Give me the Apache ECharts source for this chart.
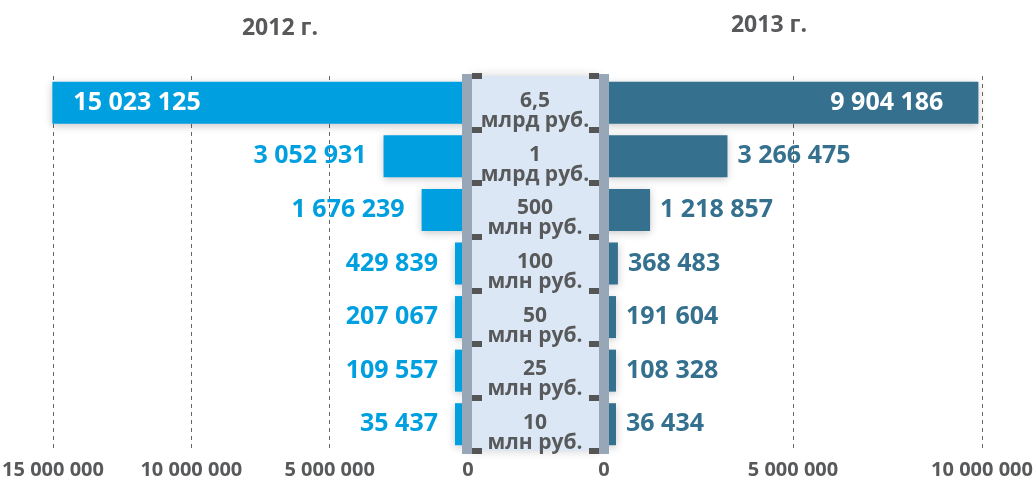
<!DOCTYPE html>
<html>
<head>
<meta charset="utf-8">
<script src="https://cdn.jsdelivr.net/npm/echarts@6/dist/echarts.min.js"></script>
<style>
  html, body { margin: 0; padding: 0; background: #fff; }
  #chart { width: 1035px; height: 481px; }
</style>
</head>
<body>
<div id="chart"></div>
<script>
// thresholds (top to bottom)
const bands = ["6,5", "1", "500", "100", "50", "25", "10"];
const bandUnits = ["млрд руб.", "млрд руб.", "млн руб.", "млн руб.", "млн руб.", "млн руб.", "млн руб."];
const values2012 = [15023125, 3052931, 1676239, 429839, 207067, 109557, 35437];
const values2013 = [9904186, 3266475, 1218857, 368483, 191604, 108328, 36434];
const yearTitles = ["2012 г.", "2013 г."];

const FONT = "'Open Sans', 'DejaVu Sans', sans-serif";
const GREY_TEXT = "#58595b";
const BLUE_2012 = "#009fdf";
const BLUE_2013 = "#35718f";
const PANEL_BAR = "#97a7b7";

const fmt = (v) => String(v).replace(/\B(?=(\d{3})+(?!\d))/g, " ");

const chart = echarts.init(document.getElementById("chart"));

// biggest bar gets its label inside (white), the rest outside
const toData = (vals, insidePos, dist) => vals.map((v, i) => i === 0
  ? { value: v, label: { position: insidePos, color: "#fff", distance: dist } }
  : v);

const valueAxisBase = {
  type: "value",
  min: 0,
  interval: 5000000,
  axisLine: { show: false },
  axisTick: { show: false },
  axisLabel: {
    formatter: fmt,
    color: GREY_TEXT,
    fontFamily: FONT,
    fontWeight: "bold",
    fontSize: 20,
    margin: 9,
  },
  splitLine: { lineStyle: { color: "#666", type: [4, 4], width: 1 } },
};

const hiddenCat = (grid) => ({ type: "category", gridIndex: grid, data: bands, show: false });
const hiddenVal = (grid) => ({ type: "value", gridIndex: grid, show: false });

const markAxis = (pos) => ({
  type: "category", gridIndex: 2, data: bands, inverse: true, position: pos, z: 6,
  axisLine: { show: true, lineStyle: { color: "rgba(0,0,0,0)", width: 1 } },
  axisTick: { show: true, inside: true, length: 10, lineStyle: { color: "#555", width: 6, cap: "butt" } },
  axisLabel: { show: false },
});

const barShadow = { shadowBlur: 8, shadowColor: "rgba(0,0,0,0.22)", shadowOffsetY: 2 };

const labelsAxis = markAxis("left");
labelsAxis.axisLabel = {
  show: true, inside: true, margin: 63, align: "center",
  padding: [17, 0, 0, 0],
  formatter: (v, i) => "{n|" + v + "}\n{u|" + bandUnits[i] + "}",
  rich: {
    n: { color: GREY_TEXT, fontFamily: FONT, fontWeight: "bold", fontSize: 21, lineHeight: 20, align: "center" },
    u: { color: GREY_TEXT, fontFamily: FONT, fontWeight: "bold", fontSize: 21, lineHeight: 20, align: "center" },
  },
};

const option = {
  animation: false,
  backgroundColor: "#fff",
  title: [
    { text: yearTitles[0], left: 275, top: 12, textAlign: "center",
      textStyle: { color: GREY_TEXT, fontFamily: FONT, fontWeight: "bold", fontSize: 23 } },
    { text: yearTitles[1], left: 764, top: 9, textAlign: "center",
      textStyle: { color: GREY_TEXT, fontFamily: FONT, fontWeight: "bold", fontSize: 23 } },
  ],
  grid: [
    { left: 53, right: 567, top: 76, bottom: 30, outerBoundsMode: "none" },
    { left: 604, right: 53, top: 76, bottom: 30, outerBoundsMode: "none" },
    // centre panel
    { left: 472, right: 436, top: 76, bottom: 30, outerBoundsMode: "none", show: true,
      backgroundColor: "#dbe7f4", borderWidth: 0, shadowBlur: 10, shadowColor: "rgba(0,0,0,0.18)", z: 3 },
    // grey side bars of the panel
    { left: 462, width: 10, top: 74, bottom: 27, outerBoundsMode: "none", show: true,
      backgroundColor: PANEL_BAR, borderWidth: 0, z: 4 },
    { left: 599, width: 10, top: 74, bottom: 27, outerBoundsMode: "none", show: true,
      backgroundColor: PANEL_BAR, borderWidth: 0, z: 4 },
  ],
  xAxis: [
    { ...valueAxisBase, gridIndex: 0, inverse: true, max: 15000000 },
    { ...valueAxisBase, gridIndex: 1, max: 10000000 },
    hiddenVal(2),
    hiddenVal(3),
    hiddenVal(4),
  ],
  yAxis: [
    { type: "category", gridIndex: 0, data: bands, inverse: true, show: false },
    { type: "category", gridIndex: 1, data: bands, inverse: true, show: false },
    labelsAxis,
    markAxis("right"),
    hiddenCat(3),
    hiddenCat(4),
  ],
  series: [
    {
      name: "2012", type: "bar", xAxisIndex: 0, yAxisIndex: 0,
      data: toData(values2012, "insideLeft", 21),
      barWidth: 42, barMinHeight: 13, clip: false,
      itemStyle: { color: BLUE_2012, ...barShadow },
      label: {
        show: true, position: "left", distance: 17, formatter: (p) => fmt(p.value),
        color: BLUE_2012, fontFamily: FONT, fontWeight: "bold", fontSize: 25,
      },
    },
    {
      name: "2013", type: "bar", xAxisIndex: 1, yAxisIndex: 1,
      data: toData(values2013, "insideRight", 35),
      barWidth: 42, barMinHeight: 12, clip: false,
      itemStyle: { color: BLUE_2013, ...barShadow },
      label: {
        show: true, position: "right", distance: 10, formatter: (p) => fmt(p.value),
        color: BLUE_2013, fontFamily: FONT, fontWeight: "bold", fontSize: 25,
      },
    },
  ],
};

chart.setOption(option);
</script>
</body>
</html>
